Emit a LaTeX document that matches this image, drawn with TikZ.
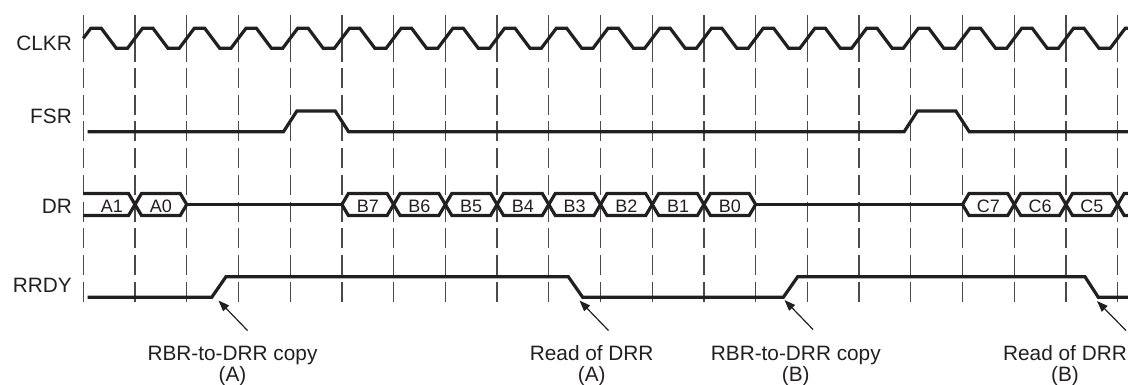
\documentclass[tikz,border=0pt]{standalone}
\usepackage{fontspec}
\setmainfont{Liberation Sans}
\usetikzlibrary{arrows.meta}
\definecolor{ink}{HTML}{231F20}
\definecolor{gridc}{HTML}{4A4A4A}
\tikzset{
  sig/.style={line width=3.2pt, draw=ink, line join=miter, miter limit=3},
  gridsolid/.style={line width=1.3pt, draw=gridc},
  griddash/.style={line width=1.3pt, draw=gridc, dash pattern=on 20pt off 6.7pt},
  siglbl/.style={anchor=base east, inner sep=0pt, text=ink, font=\fontsize{20.8}{24}\selectfont},
  buslbl/.style={anchor=base, inner sep=0pt, text=ink, font=\fontsize{18}{20}\selectfont},
  notelbl/.style={anchor=base, inner sep=0pt, text=ink, font=\fontsize{20.8}{24}\selectfont},
  arr/.style={line width=1.2pt, draw=ink, -{Triangle[length=11pt,width=8pt]}},
}
\begin{document}
\begin{tikzpicture}[x=1pt,y=-1pt]
\useasboundingbox (0,0) rectangle (1128,384);
\clip (0,0) rectangle (1128,384);
% grid lines
\foreach \k in {0,...,20}{
  \draw[gridsolid] ({83.3+51.72*\k},15) -- ({83.3+51.72*\k},62);
  \draw[griddash] ({83.3+51.72*\k},68) -- ({83.3+51.72*\k},303);
}
% labels
\node[siglbl] (lclk) at (72,50) {CLKR};
\node[siglbl] (lfsr) at (72,123.3) {FSR};
\node[siglbl] (ldr) at (72,213.3) {DR};
\node[siglbl] (lrrdy) at (72,292.3) {RRDY};
% CLKR
\draw[sig] (83.3,38.3) foreach \k in {0,...,20} {
  -- ({83.3+51.72*\k+7.5},28.3) -- ({83.3+51.72*\k+18},28.3)
  -- ({83.3+51.72*\k+33},48.3) -- ({83.3+51.72*\k+44.2},48.3) } -- (1140,28.3);
% FSR
\draw[sig] (87.5,131.7) -- ({83.3+51.72*4-6.7},131.7) -- ({83.3+51.72*4+6.7},111)
  -- ({83.3+51.72*5-6.7},111) -- ({83.3+51.72*5+6.7},131.7)
  -- ({83.3+51.72*16-6.7},131.7) -- ({83.3+51.72*16+6.7},111)
  -- ({83.3+51.72*17-6.7},111) -- ({83.3+51.72*17+6.7},131.7) -- (1140,131.7);
% DR bus
\def\ytop{193.5}\def\ybot{215.5}\def\ymid{204.5}\def\hh{6.5}
\draw[sig] (83,\ytop) -- ({83.3+51.72-\hh},\ytop) -- ({83.3+51.72},\ymid) -- ({83.3+51.72-\hh},\ybot) -- (83,\ybot);
\foreach \k in {1,5,6,7,8,9,10,11,12,17,18,19}{
  \draw[sig] ({83.3+51.72*\k},\ymid) -- ({83.3+51.72*\k+\hh},\ytop) -- ({83.3+51.72*(\k+1)-\hh},\ytop)
    -- ({83.3+51.72*(\k+1)},\ymid) -- ({83.3+51.72*(\k+1)-\hh},\ybot) -- ({83.3+51.72*\k+\hh},\ybot) -- cycle;
}
\draw[sig] ({83.3+51.72*20+40},\ytop) -- ({83.3+51.72*20+\hh},\ytop) -- ({83.3+51.72*20},\ymid)
  -- ({83.3+51.72*20+\hh},\ybot) -- ({83.3+51.72*20+40},\ybot);
\draw[sig] ({83.3+51.72*2},\ymid) -- ({83.3+51.72*5},\ymid);
\draw[sig] ({83.3+51.72*13},\ymid) -- ({83.3+51.72*17},\ymid);
% bus labels
\node[buslbl] (dA1) at (112,212) {A1};
\node[buslbl] (dA0) at ({83.3+51.72*1.5},212) {A0};
\node[buslbl] (dB7) at ({83.3+51.72*5.5},212) {B7};
\node[buslbl] (dB6) at ({83.3+51.72*6.5},212) {B6};
\node[buslbl] (dB5) at ({83.3+51.72*7.5},212) {B5};
\node[buslbl] (dB4) at ({83.3+51.72*8.5},212) {B4};
\node[buslbl] (dB3) at ({83.3+51.72*9.5},212) {B3};
\node[buslbl] (dB2) at ({83.3+51.72*10.5},212) {B2};
\node[buslbl] (dB1) at ({83.3+51.72*11.5},212) {B1};
\node[buslbl] (dB0) at ({83.3+51.72*12.5},212) {B0};
\node[buslbl] (dC7) at ({83.3+51.72*17.5},212) {C7};
\node[buslbl] (dC6) at ({83.3+51.72*18.5},212) {C6};
\node[buslbl] (dC5) at ({83.3+51.72*19.5},212) {C5};
% RRDY
\draw[sig] (87.5,297.3) -- (211.7,297.3) -- (226,276.7) -- (568.3,276.7) -- (582.7,297.3)
  -- (783.3,297.3) -- (797.7,276.7) -- (1085,276.7) -- (1098.3,297.3) -- (1140,297.3);
% notes
\node[notelbl] (nA1) at (232.5,360.5) {RBR-to-DRR copy};
\node[notelbl] (nA2) at (232.5,381) {(A)};
\node[notelbl] (nB1) at (591.7,360.5) {Read of DRR};
\node[notelbl] (nB2) at (591.7,381) {(A)};
\node[notelbl] (nC1) at (795.8,360.5) {RBR-to-DRR copy};
\node[notelbl] (nC2) at (795.8,381) {(B)};
\node[notelbl] (nD1) at (1065,360.5) {Read of DRR};
\node[notelbl] (nD2) at (1065,381) {(B)};
% arrows
\coordinate (tl1) at (247.5,330.5); \coordinate (hd1) at (218.5,300.5);
\coordinate (tl2) at (608.5,330.5); \coordinate (hd2) at (579.5,300.5);
\coordinate (tl3) at (813,329.5);   \coordinate (hd3) at (784.5,300);
\coordinate (tl4) at (1126,330.5);  \coordinate (hd4) at (1097,301);
\draw[arr] (tl1) -- (hd1);
\draw[arr] (tl2) -- (hd2);
\draw[arr] (tl3) -- (hd3);
\draw[arr] (tl4) -- (hd4);
\end{tikzpicture}
\end{document}
